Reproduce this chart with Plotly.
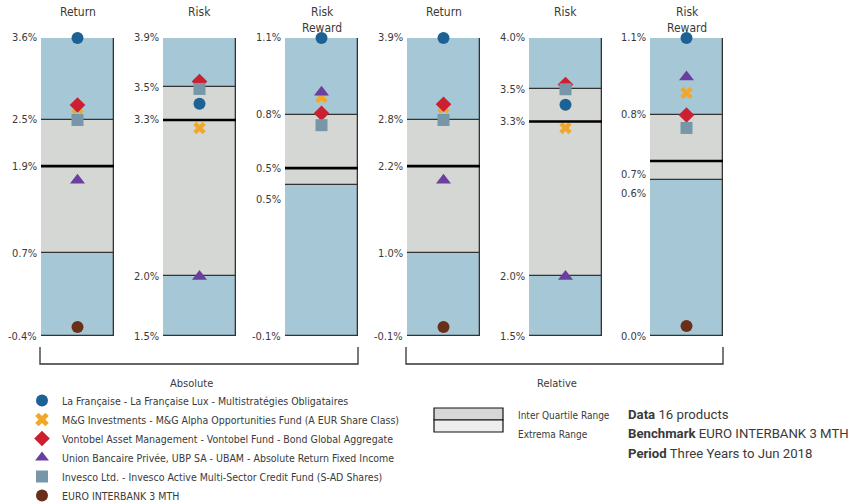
import plotly.graph_objects as go

# ---------------- data ----------------
panel_titles = ["Return", "Risk", "Risk<br>Reward", "Return", "Risk", "Risk<br>Reward"]
group_names = ["Absolute", "Relative"]

mins = [-0.4, 1.5, -0.1, -0.1, 1.5, 0.0]
q1s = [0.71, 1.98, 0.51, 1.01, 2.00, 0.576]
medians = [1.88, 3.24, 0.576, 2.18, 3.30, 0.646]
q3s = [2.50, 3.505, 0.79, 2.80, 3.57, 0.816]
maxs = [3.6, 3.9, 1.1, 3.9, 4.0, 1.1]

# tick labels per panel: max, Q3, median, Q1, min
tick_labels = [
    ["3.6%", "2.5%", "1.9%", "0.7%", "-0.4%"],
    ["3.9%", "3.5%", "3.3%", "2.0%", "1.5%"],
    ["1.1%", "0.8%", "0.5%", "0.5%", "-0.1%"],
    ["3.9%", "2.8%", "2.2%", "1.0%", "-0.1%"],
    ["4.0%", "3.5%", "3.3%", "2.0%", "1.5%"],
    ["1.1%", "0.8%", "0.7%", "0.6%", "0.0%"],
]

series_names = [
    "La Française - La Française Lux - Multistratégies Obligataires",
    "M&G Investments - M&G Alpha Opportunities Fund (A EUR Share Class)",
    "Vontobel Asset Management - Vontobel Fund - Bond Global Aggregate",
    "Union Bancaire Privée, UBP SA - UBAM - Absolute Return Fixed Income",
    "Invesco Ltd. - Invesco Active Multi-Sector Credit Fund (S-AD Shares)",
    "EURO INTERBANK 3 MTH",
]
la_francaise = [3.6, 3.37, 1.1, 3.9, 3.44, 1.1]
mg = [2.66, 3.175, 0.862, 2.97, 3.245, 0.897]
vontobel = [2.70, 3.55, 0.797, 3.01, 3.61, 0.816]
ubp = [1.69, 1.98, 0.882, 1.99, 2.00, 0.956]
invesco = [2.50, 3.49, 0.749, 2.80, 3.57, 0.768]
euribor = [-0.279, 1.374, -0.165, 0.021, 1.368, 0.037]
series_values = [la_francaise, mg, vontobel, ubp, invesco, euribor]

info_lines = [("Data", "16 products"),
              ("Benchmark", "EURO INTERBANK 3 MTH"),
              ("Period", "Three Years to Jun 2018")]

# ---------------- styles ----------------
W, H = 854, 504
BLUE = "#a6c8d6"
GREY = "#d5d7d4"
LIGHT = "#eeeeee"
EDGE = "#333333"
TXT = "#3a3a3a"
FONT = "Liberation Sans Narrow, DejaVu Sans Condensed, Roboto, sans-serif"
series_styles = [
    dict(symbol="circle", color="#1d6294", size=12),
    dict(symbol="x", color="#f0a82c", size=11),
    dict(symbol="diamond", color="#cc2030", size=12),
    dict(symbol="triangle-up", color="#6a3fa0", size=13),
    dict(symbol="square", color="#7796a8", size=12),
    dict(symbol="circle", color="#6a2f1b", size=12),
]
box_left = [41, 163, 285, 407, 529, 650]
box_w = 73
box_top, box_bottom = 38, 336
label_nudge = {2: [0, 0, 0, -15, 0], 5: [0, 0, -14, -14, 0]}


def px(x):
    return x / W


def py(y):
    return 1 - y / H


fig = go.Figure()
shapes = []
annotations = []

for i in range(6):
    sfx = "" if i == 0 else str(i + 1)
    xa, ya = "x" + sfx, "y" + sfx
    # extrema range bar
    fig.add_trace(go.Bar(x=[0], y=[maxs[i] - mins[i]], base=[mins[i]], width=1,
                         marker=dict(color=BLUE, line=dict(color=EDGE, width=1.3)),
                         xaxis=xa, yaxis=ya, showlegend=False, hoverinfo="skip",
                         cliponaxis=False))
    # inter quartile bar
    fig.add_trace(go.Bar(x=[0], y=[q3s[i] - q1s[i]], base=[q1s[i]], width=1,
                         marker=dict(color=GREY, line=dict(color=EDGE, width=1.3)),
                         xaxis=xa, yaxis=ya, showlegend=False, hoverinfo="skip",
                         cliponaxis=False))
    # median line
    shapes.append(dict(type="line", xref=f"{xa} domain", yref=ya, x0=0, x1=1,
                       y0=medians[i], y1=medians[i], line=dict(color="#000", width=2.6)))
    # markers
    for s, (name, vals) in enumerate(zip(series_names, series_values)):
        st = series_styles[s]
        fig.add_trace(go.Scatter(
            x=[0], y=[vals[i]], mode="markers", name=name, legendgroup=name,
            showlegend=(i == 0), cliponaxis=False, xaxis=xa, yaxis=ya,
            marker=dict(symbol=st["symbol"], color=st["color"], size=st["size"],
                        line=dict(width=0)),
            hoverinfo="name+y"))
    # axes
    fig.update_layout(**{
        ("xaxis" + sfx): dict(domain=[px(box_left[i]), px(box_left[i] + box_w)],
                              range=[-0.5, 0.5], visible=False, anchor=ya, fixedrange=True),
        ("yaxis" + sfx): dict(domain=[py(box_bottom), py(box_top)],
                              range=[mins[i], maxs[i]], visible=False, anchor=xa, fixedrange=True),
    })
    # tick labels
    vals = [maxs[i], q3s[i], medians[i], q1s[i], mins[i]]
    nud = label_nudge.get(i, [0] * 5)
    for v, t, n in zip(vals, tick_labels[i], nud):
        annotations.append(dict(xref=f"{xa} domain", yref=ya, x=0, y=v, text=t,
                                showarrow=False, xanchor="right", yanchor="middle",
                                xshift=-2, yshift=n,
                                font=dict(family=FONT, size=11, color=TXT)))
    # title
    annotations.append(dict(xref=f"{xa} domain", yref="paper", x=0.5, y=py(3),
                            text=panel_titles[i], showarrow=False, xanchor="center",
                            yanchor="top", font=dict(family=FONT, size=12, color=TXT)))

# group brackets
for g in range(2):
    x0 = px(box_left[3 * g] - 1)
    x1 = px(box_left[3 * g + 2] + box_w)
    ytop, ybot = py(347), py(364)
    shapes.append(dict(type="path", xref="paper", yref="paper",
                       path=f"M {x0},{ytop} L {x0},{ybot} L {x1},{ybot} L {x1},{ytop}",
                       line=dict(color=EDGE, width=1.3)))
    annotations.append(dict(xref="paper", yref="paper", x=(x0 + x1) / 2 - px(8), y=py(383),
                            text=group_names[g], showarrow=False, xanchor="center",
                            yanchor="middle", font=dict(family=FONT, size=11, color=TXT)))

# range key
shapes.append(dict(type="rect", xref="paper", yref="paper", x0=px(434), x1=px(503),
                   y0=py(420), y1=py(408), fillcolor=GREY, line=dict(color="#111", width=1.2)))
shapes.append(dict(type="rect", xref="paper", yref="paper", x0=px(434), x1=px(503),
                   y0=py(432), y1=py(420), fillcolor=LIGHT, line=dict(color="#111", width=1.2)))
annotations.append(dict(xref="paper", yref="paper", x=px(516), y=py(415),
                        text="Inter Quartile Range", showarrow=False, xanchor="left",
                        yanchor="middle", font=dict(family=FONT, size=10, color=TXT)))
annotations.append(dict(xref="paper", yref="paper", x=px(516), y=py(434),
                        text="Extrema Range", showarrow=False, xanchor="left",
                        yanchor="middle", font=dict(family=FONT, size=10, color=TXT)))

# info text
for k, (b, rest) in enumerate(info_lines):
    annotations.append(dict(xref="paper", yref="paper", x=px(626), y=py(414 + 19.5 * k),
                            text=f"<b>{b}</b> {rest}", showarrow=False, xanchor="left",
                            yanchor="middle", font=dict(family="Roboto, sans-serif", size=13.2, color=TXT)))

fig.update_layout(
    autosize=True, margin=dict(l=0, r=0, t=0, b=0, autoexpand=False),
    paper_bgcolor="white", plot_bgcolor="white",
    barmode="overlay", bargap=0,
    shapes=shapes, annotations=annotations,
    showlegend=True,
    legend=dict(x=px(22), y=py(386), xanchor="left", yanchor="top",
                bgcolor="rgba(0,0,0,0)", font=dict(family=FONT, size=10.5, color=TXT),
                tracegroupgap=0, itemsizing="constant"),
)

fig.write_html("out.html", default_width="100vw", default_height="100vh",
               config={"displayModeBar": False, "responsive": True})

# remove default page margin so the figure fills the window exactly
with open("out.html", "r", encoding="utf-8") as f:
    html = f.read()
html = html.replace(
    "<head>",
    "<head><style>html,body{margin:0;padding:0;overflow:hidden;width:100%;height:100%;}</style>",
    1)
with open("out.html", "w", encoding="utf-8") as f:
    f.write(html)
